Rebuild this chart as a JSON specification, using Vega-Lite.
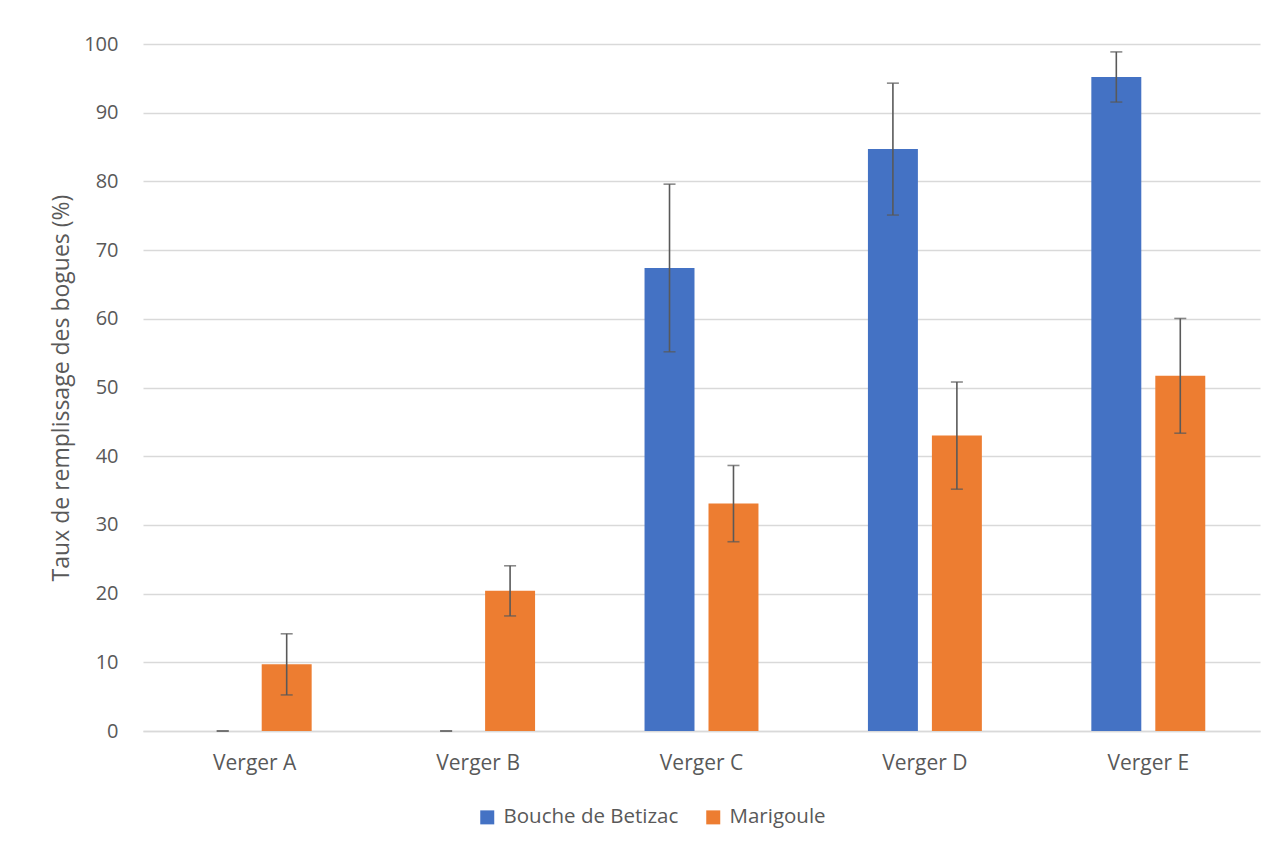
{
  "$schema": "https://vega.github.io/schema/vega-lite/v6.json",
  "width": 1117,
  "height": 687,
  "autosize": {"type": "none"},
  "padding": {"left": 143, "top": 44, "right": 19, "bottom": 114},
  "background": "#ffffff",
  "config": {
    "font": "Open Sans",
    "view": {"stroke": null},
    "axis": {"labelColor": "#595959", "titleColor": "#595959", "labelFont": "Open Sans", "titleFont": "Open Sans"},
    "legend": {"labelColor": "#595959", "labelFont": "Open Sans"}
  },
  "data": {
    "values": [
      {"verger": "Verger A", "variete": "Bouche de Betizac", "taux": 0, "bas": 0, "haut": 0},
      {"verger": "Verger A", "variete": "Marigoule", "taux": 9.7, "bas": 5.25, "haut": 14.15},
      {"verger": "Verger B", "variete": "Bouche de Betizac", "taux": 0, "bas": 0, "haut": 0},
      {"verger": "Verger B", "variete": "Marigoule", "taux": 20.4, "bas": 16.75, "haut": 24.05},
      {"verger": "Verger C", "variete": "Bouche de Betizac", "taux": 67.4, "bas": 55.2, "haut": 79.6},
      {"verger": "Verger C", "variete": "Marigoule", "taux": 33.1, "bas": 27.55, "haut": 38.65},
      {"verger": "Verger D", "variete": "Bouche de Betizac", "taux": 84.7, "bas": 75.1, "haut": 94.3},
      {"verger": "Verger D", "variete": "Marigoule", "taux": 43.0, "bas": 35.2, "haut": 50.8},
      {"verger": "Verger E", "variete": "Bouche de Betizac", "taux": 95.2, "bas": 91.55, "haut": 98.85},
      {"verger": "Verger E", "variete": "Marigoule", "taux": 51.7, "bas": 43.35, "haut": 60.05}
    ]
  },
  "encoding": {
    "x": {
      "field": "verger", "type": "nominal",
      "scale": {"paddingInner": 0.49, "paddingOuter": 0.245},
      "axis": {"title": null, "labelAngle": 0, "labelFontSize": 21, "labelPadding": 21, "ticks": false, "domain": true, "domainColor": "#d9d9d9", "domainWidth": 1.3, "grid": false}
    },
    "xOffset": {"field": "variete", "type": "nominal", "scale": {"paddingInner": 0.219, "paddingOuter": 0}}
  },
  "layer": [
    {
      "mark": {"type": "bar"},
      "encoding": {
        "y": {
          "field": "taux", "type": "quantitative",
          "scale": {"domain": [0, 100], "nice": false},
          "axis": {"title": "Taux de remplissage des bogues (%)", "titleFontSize": 23, "titleFontWeight": "normal", "titlePadding": 10, "labelFontSize": 20, "labelPadding": 25, "values": [0,10,20,30,40,50,60,70,80,90,100], "ticks": false, "domain": false, "gridColor": "#d9d9d9", "gridWidth": 1.3}
        },
        "color": {
          "field": "variete", "type": "nominal",
          "scale": {"domain": ["Bouche de Betizac", "Marigoule"], "range": ["#4472C4", "#ED7D31"]},
          "legend": {"title": null, "orient": "none", "legendX": 334, "legendY": 763, "direction": "horizontal", "symbolType": "square", "symbolSize": 196, "symbolStrokeWidth": 0, "labelFontSize": 20.5, "labelLimit": 400, "labelOffset": 6, "columnPadding": 24, "padding": 0}
        }
      }
    },
    {
      "mark": {"type": "rule", "color": "#595959", "strokeWidth": 1.6},
      "encoding": {
        "y": {"field": "bas", "type": "quantitative"},
        "y2": {"field": "haut"}
      }
    },
    {
      "mark": {"type": "tick", "color": "#595959", "thickness": 1.6, "size": 12, "orient": "horizontal"},
      "encoding": {"y": {"field": "bas", "type": "quantitative"}}
    },
    {
      "mark": {"type": "tick", "color": "#595959", "thickness": 1.6, "size": 12, "orient": "horizontal"},
      "encoding": {"y": {"field": "haut", "type": "quantitative"}}
    }
  ]
}
